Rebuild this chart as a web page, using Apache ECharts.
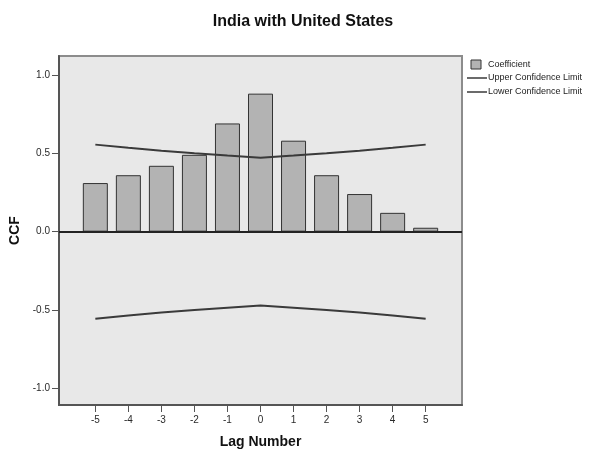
<!DOCTYPE html>
<html>
<head>
<meta charset="utf-8">
<script src="https://cdn.jsdelivr.net/npm/echarts@6/dist/echarts.min.js"></script>
<style>
  html, body { margin: 0; padding: 0; background: #fff; }
  #chart { width: 603px; height: 452px; }
</style>
</head>
<body>
<div id="chart"></div>
<script>
// Cross-correlation of India with United States, lags -5..5
const lags = [-5, -4, -3, -2, -1, 0, 1, 2, 3, 4, 5];
const coefficient = [0.31, 0.36, 0.42, 0.49, 0.69, 0.88, 0.58, 0.36, 0.24, 0.12, 0.025];
const upperLimit = [0.555, 0.535, 0.516, 0.500, 0.485, 0.471, 0.485, 0.500, 0.516, 0.535, 0.555];
const lowerLimit = [-0.555, -0.535, -0.516, -0.500, -0.485, -0.471, -0.485, -0.500, -0.516, -0.535, -0.555];
const yTicks = [-1, -0.5, 0, 0.5, 1];

const FONT = '"Liberation Sans", Arial, sans-serif';
const LINE_COLOR = '#3a3a3a';

const chart = echarts.init(document.getElementById('chart'), null, { renderer: 'canvas' });

const pairs = arr => lags.map((l, i) => [l, arr[i]]);

chart.setOption({
  animation: false,
  backgroundColor: '#ffffff',
  title: {
    text: 'India with United States',
    left: 298,
    textAlign: 'center',
    top: 9,
    textStyle: { fontFamily: FONT, fontSize: 16, fontWeight: 'bold', color: '#111' }
  },
  grid: {
    left: 59, top: 56, right: 141, bottom: 47,
    outerBoundsMode: 'none',
    containLabel: false,
    show: true,
    backgroundColor: '#e8e8e8',
    borderColor: '#8c8c8c',
    borderWidth: 2
  },
  xAxis: {
    type: 'value',
    min: -6.1,
    max: 6.1,
    name: 'Lag Number',
    nameLocation: 'middle',
    nameGap: 30,
    nameTextStyle: { fontFamily: FONT, fontSize: 14, fontWeight: 'bold', color: '#111' },
    axisLine: { onZero: false, lineStyle: { color: '#555', width: 2 } },
    axisTick: { show: true, customValues: lags, length: 7, lineStyle: { color: '#555', width: 1 } },
    axisLabel: {
      customValues: lags, fontFamily: FONT, fontSize: 10, color: '#2a2a2a', margin: 10,
      formatter: v => String(v)
    },
    splitLine: { show: false }
  },
  yAxis: {
    type: 'value',
    min: -1.105,
    max: 1.12,
    name: 'CCF',
    nameLocation: 'middle',
    nameGap: 35,
    nameRotate: 90,
    nameTextStyle: { fontFamily: FONT, fontSize: 14, fontWeight: 'bold', color: '#111' },
    axisLine: { show: true, onZero: false, lineStyle: { color: '#555', width: 2 } },
    axisTick: { show: true, customValues: yTicks, length: 7, lineStyle: { color: '#555', width: 1 } },
    axisLabel: {
      customValues: yTicks, fontFamily: FONT, fontSize: 10, color: '#2a2a2a', margin: 9,
      formatter: v => v.toFixed(1)
    },
    splitLine: { show: false }
  },
  series: [
    {
      name: 'Coefficient',
      type: 'bar',
      data: pairs(coefficient),
      barWidth: 25,
      itemStyle: { color: '#b3b3b3', borderColor: '#333', borderWidth: 1 },
      markLine: {
        silent: true,
        symbol: 'none',
        label: { show: false },
        lineStyle: { color: '#222', width: 2, type: 'solid' },
        data: [{ yAxis: 0 }]
      },
      z: 2
    },
    {
      name: 'Upper Confidence Limit',
      type: 'line',
      data: pairs(upperLimit),
      showSymbol: false,
      lineStyle: { color: LINE_COLOR, width: 2 },
      z: 3
    },
    {
      name: 'Lower Confidence Limit',
      type: 'line',
      data: pairs(lowerLimit),
      showSymbol: false,
      lineStyle: { color: LINE_COLOR, width: 2 },
      z: 3
    }
  ],
  graphic: [
    { type: 'rect', shape: { x: 471, y: 60, width: 10, height: 9 },
      style: { fill: '#b3b3b3', stroke: '#333', lineWidth: 1 } },
    { type: 'text', x: 488, y: 64.5,
      style: { text: 'Coefficient', font: '9px ' + FONT, fill: '#222', textVerticalAlign: 'middle' } },
    { type: 'line', shape: { x1: 467, y1: 78, x2: 487, y2: 78 },
      style: { stroke: LINE_COLOR, lineWidth: 1.5 } },
    { type: 'text', x: 488, y: 78,
      style: { text: 'Upper Confidence Limit', font: '9px ' + FONT, fill: '#222', textVerticalAlign: 'middle' } },
    { type: 'line', shape: { x1: 467, y1: 92, x2: 487, y2: 92 },
      style: { stroke: LINE_COLOR, lineWidth: 1.5 } },
    { type: 'text', x: 488, y: 92,
      style: { text: 'Lower Confidence Limit', font: '9px ' + FONT, fill: '#222', textVerticalAlign: 'middle' } }
  ]
});
</script>
</body>
</html>
